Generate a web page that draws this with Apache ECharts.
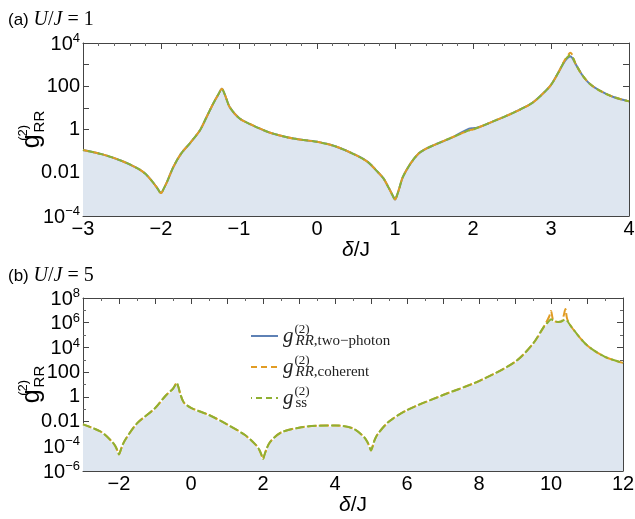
<!DOCTYPE html>
<html>
<head>
<meta charset="utf-8">
<script src="https://cdn.jsdelivr.net/npm/echarts@6/dist/echarts.min.js"></script>
<style>
  html, body { margin: 0; padding: 0; background: #fff; }
  #main { width: 635px; height: 519px; }
</style>
</head>
<body>
<div id="main"></div>
<script>
  // panel (a): U/J = 1, g2 values
  var deltaA = [-3, -2.75, -2.5, -2.3, -2.2, -2.1, -2.05, -2, -1.96, -1.92, -1.84, -1.74, -1.63, -1.5, -1.42, -1.33, -1.26, -1.22, -1.18, -1.12,
    -1.0, -0.86, -0.6, -0.3, 0, 0.25, 0.5, 0.65, 0.75, 0.85, 0.92, 0.97, 1.0, 1.03, 1.06, 1.1, 1.2, 1.3, 1.4, 1.5,
    1.75, 1.95, 2.0, 2.05, 2.25, 2.5, 2.75, 2.9, 3.0, 3.1, 3.18, 3.25, 3.32, 3.4, 3.5, 3.65, 3.8, 4.0]
  var twoPhotonA = [0.112, 0.071, 0.035, 0.016, 8.9e-3, 3.5e-3, 2.0e-3, 1.15e-3, 2.0e-3, 4.0e-3, 0.019, 0.079, 0.23, 0.93, 3.5, 16, 45, 76, 40, 11,
    3.4, 1.8, 0.71, 0.38, 0.27, 0.16, 0.065, 0.032, 0.014, 5.6e-3, 2.0e-3, 8.9e-4, 5.8e-4, 1.0e-3, 2.2e-3, 6.3e-3, 0.027, 0.076, 0.13, 0.19,
    0.46, 1.1, 1.15, 1.2, 2.3, 5.6, 16, 47, 115, 470, 1500, 2350, 1000, 330, 126, 56, 32, 20]
  var coherentA = [0.112, 0.071, 0.035, 0.016, 8.9e-3, 3.5e-3, 2.0e-3, 1.15e-3, 2.0e-3, 4.0e-3, 0.019, 0.079, 0.23, 0.93, 3.5, 16, 45, 76, 40, 11,
    3.4, 1.8, 0.71, 0.38, 0.27, 0.16, 0.065, 0.032, 0.014, 5.6e-3, 2.0e-3, 8.9e-4, 5.8e-4, 1.0e-3, 2.2e-3, 6.3e-3, 0.027, 0.076, 0.13, 0.19,
    0.46, 0.91, 1.0, 1.17, 2.3, 5.6, 16, 47, 115, 470, 1700, 3550, 1000, 330, 126, 56, 32, 20]
  var steadyA = [0.112, 0.071, 0.035, 0.016, 8.9e-3, 3.5e-3, 2.0e-3, 1.15e-3, 2.0e-3, 4.0e-3, 0.019, 0.079, 0.23, 0.93, 3.5, 16, 45, 76, 40, 11,
    3.4, 1.8, 0.71, 0.38, 0.27, 0.16, 0.065, 0.032, 0.014, 5.6e-3, 2.0e-3, 8.9e-4, 5.8e-4, 1.0e-3, 2.2e-3, 6.3e-3, 0.027, 0.076, 0.13, 0.19,
    0.46, 0.91, 1.0, 1.17, 2.3, 5.6, 16, 47, 115, 470, 1600, 2800, 1000, 330, 126, 56, 32, 20]

  // panel (b): U/J = 5
  var deltaB = [-3, -2.5, -2.2, -2.1, -2.03, -2, -1.97, -1.9, -1.8, -1.5, -1, -0.7, -0.5, -0.45, -0.4, -0.35, -0.3, -0.2, 0, 0.5, 1, 1.5, 1.8, 1.9, 1.97, 2,
    2.03, 2.1, 2.2, 2.5, 3, 3.5, 4, 4.5, 4.8, 4.9, 4.97, 5, 5.03, 5.1, 5.2, 5.5, 6, 7, 8, 9, 9.5, 9.8, 9.95, 10, 10.05, 10.1, 10.2, 10.3, 10.35, 10.4,
    10.45, 10.6, 11, 11.5, 12]
  var coherentB = [5.9e-3, 1.5e-3, 2.5e-4, 1e-4, 3.5e-5, 2.2e-5, 3.5e-5, 1.3e-4, 4.5e-4, 7.1e-3, 0.12, 1.3, 4.5, 7.9, 13.5, 6.3, 1.8, 0.35, 0.13, 0.034,
    5.9e-3, 8.1e-4, 1.3e-4, 5e-5, 1.6e-5, 9.3e-6, 1.6e-5, 6.3e-5, 2.3e-4, 1.3e-3, 3.2e-3, 4.6e-3, 4.9e-3, 2.8e-3, 5.9e-4, 2.2e-4, 7.1e-5, 4.5e-5,
    7.1e-5, 3.2e-4, 1.1e-3, 0.01, 0.085, 1.4, 19, 680, 2.0e4, 4.6e5, 3.2e6, 8.9e6, 2.0e6, 1.3e6, 1.15e6, 1.3e6, 3.5e6, 1.26e7, 2.0e6, 3.4e5, 1.5e4,
    1740, 560]
  var steadyB = [5.9e-3, 1.5e-3, 2.5e-4, 1e-4, 3.5e-5, 2.2e-5, 3.5e-5, 1.3e-4, 4.5e-4, 7.1e-3, 0.12, 1.3, 4.5, 7.9, 13.5, 6.3, 1.8, 0.35, 0.13, 0.034,
    5.9e-3, 8.1e-4, 1.3e-4, 5e-5, 1.6e-5, 9.3e-6, 1.6e-5, 6.3e-5, 2.3e-4, 1.3e-3, 3.2e-3, 4.6e-3, 4.9e-3, 2.8e-3, 5.9e-4, 2.2e-4, 7.1e-5, 4.5e-5,
    7.1e-5, 3.2e-4, 1.1e-3, 0.01, 0.085, 1.4, 19, 680, 2.0e4, 4.6e5, 1.4e6, 1.9e6, 1.6e6, 1.3e6, 1.15e6, 1.3e6, 1.6e6, 1.9e6, 1.4e6, 3.4e5, 1.5e4,
    1740, 560]

  // decade tick labels (exponent -> text)
  var decadeLabels = { '-6': '10^-6', '-4': '10^-4', '-2': '0.01', '0': '1', '2': '100', '4': '10^4', '6': '10^6', '8': '10^8' }

  var N_TP = 'two-photon'
  var N_CO = 'coherent'
  var N_SS = 'ss'
  var legendText = {}
  legendText[N_TP] = '{g|g}{s|(2)}{r|RR}{t|,two\u2212photon}'
  legendText[N_CO] = '{g|g}{s|(2)}{r|RR}{t|,coherent}'
  legendText[N_SS] = '{g|g}{s|(2)}{t|ss}'

  var BLUE = '#5e81b5'
  var ORANGE = '#e19c24'
  var GREEN = '#8fb032'
  var FILL = '#dee6f0'
  var FRAME = '#444'
  var SANS = 'Liberation Sans'
  var SERIF = 'Liberation Serif'

  function toPts(xs, ys) {
    return xs.map(function(x, i) { return [x, Math.log10(ys[i])] })
  }

  function minus(v) {
    return String(v).replace('-', '\u2212')
  }

  function yLabel(v) {
    var s = decadeLabels[String(v)]
    if (!s) return ''
    if (s.indexOf('^') < 0) return s
    var parts = s.split('^')
    return '{b|' + parts[0] + '}{e|' + minus(parts[1]) + '}'
  }

  var labelRich = {
    b: { fontFamily: SANS, fontSize: 20, color: '#000', lineHeight: 22, verticalAlign: 'bottom' },
    e: { fontFamily: SANS, fontSize: 13, color: '#000', lineHeight: 14, verticalAlign: 'top' }
  }
  var nameRichY = {
    g: { fontFamily: SANS, fontSize: 25, color: '#000', lineHeight: 30, verticalAlign: 'middle' },
    s: { fontFamily: SANS, fontSize: 13, color: '#000', lineHeight: 14, verticalAlign: 'top', width: 1, padding: [0, 0, 0, 1] },
    r: { fontFamily: SANS, fontSize: 15, color: '#000', lineHeight: 16, verticalAlign: 'bottom' }
  }
  var nameRichX = {
    d: { fontFamily: SANS, fontSize: 21, fontStyle: 'italic', color: '#000' },
    j: { fontFamily: SANS, fontSize: 21, color: '#000' }
  }
  var titleRich = {
    a: { fontFamily: SANS, fontSize: 17, fontWeight: 'normal', color: '#000' },
    u: { fontFamily: SERIF, fontSize: 20, fontStyle: 'italic', fontWeight: 'normal', color: '#000' },
    p: { fontFamily: SERIF, fontSize: 20, fontWeight: 'normal', color: '#000' }
  }

  function frameAxis(extra) {
    var base = {
      splitLine: { show: false },
      axisLine: { onZero: false, lineStyle: { color: FRAME, width: 1 } },
      axisTick: { inside: true, length: 6, lineStyle: { color: FRAME } },
      minorTick: { show: true, length: 3, lineStyle: { color: '#666' } },
      axisLabel: { show: false }
    }
    return Object.assign(base, extra)
  }

  function curve(name, xi, yi, pts, color, extra) {
    return Object.assign({
      name: name, type: 'line', xAxisIndex: xi, yAxisIndex: yi,
      symbol: 'none', smooth: 0.3,
      data: pts,
      itemStyle: { color: color },
      lineStyle: { color: color, width: 2 }
    }, extra)
  }

  var chart = echarts.init(document.getElementById('main'))
  chart.setOption({
    animation: false,
    backgroundColor: '#fff',
    title: [
      { left: 3, top: 5, text: '{a|(a) }{u|U}{p|/}{u|J}{p| = 1}', textStyle: { fontWeight: 'normal', rich: titleRich } },
      { left: 3, top: 261, text: '{a|(b) }{u|U}{p|/}{u|J}{p| = 5}', textStyle: { fontWeight: 'normal', rich: titleRich } }
    ],
    legend: {
      left: 245, top: 318, orient: 'vertical',
      itemWidth: 27, itemHeight: 14, itemGap: 5,
      itemStyle: { opacity: 0, borderWidth: 0 },
      data: [N_TP, N_CO, N_SS],
      formatter: function(name) { return legendText[name] },
      textStyle: { rich: {
        g: { fontFamily: SERIF, fontSize: 21, fontStyle: 'italic', color: '#222', lineHeight: 26, verticalAlign: 'middle' },
        s: { fontFamily: SERIF, fontSize: 13, color: '#222', lineHeight: 13, verticalAlign: 'top', width: 1, padding: [0, 0, 0, 1] },
        r: { fontFamily: SERIF, fontSize: 15, fontStyle: 'italic', color: '#222', lineHeight: 13, verticalAlign: 'bottom' },
        t: { fontFamily: SERIF, fontSize: 15, color: '#222', lineHeight: 13, verticalAlign: 'bottom' }
      } }
    },
    grid: [
      { left: 83, top: 43, width: 546, height: 173, containLabel: false, outerBoundsMode: 'none' },
      { left: 83, top: 298, width: 540, height: 173, containLabel: false, outerBoundsMode: 'none' }
    ],
    xAxis: [
      frameAxis({
        type: 'value', gridIndex: 0, position: 'bottom', min: -3, max: 4, interval: 1,
        minorTick: { show: true, splitNumber: 5, length: 3, lineStyle: { color: '#666' } },
        axisLabel: { show: true, margin: 3, fontFamily: SANS, fontSize: 20, color: '#000', formatter: minus },
        name: '{d|\u03b4}{j|/J}', nameLocation: 'middle', nameGap: 20,
        nameTextStyle: { rich: nameRichX }
      }),
      frameAxis({
        type: 'value', gridIndex: 0, position: 'top', min: -3, max: 4, interval: 1,
        minorTick: { show: true, splitNumber: 5, length: 3, lineStyle: { color: '#666' } }
      }),
      frameAxis({
        type: 'value', gridIndex: 1, position: 'bottom', min: -3, max: 12, interval: 1,
        minorTick: { show: true, splitNumber: 2, length: 3, lineStyle: { color: '#666' } },
        axisLabel: { show: true, margin: 3, fontFamily: SANS, fontSize: 20, color: '#000',
          formatter: function(v) { return v % 2 === 0 ? minus(v) : '' } },
        name: '{d|\u03b4}{j|/J}', nameLocation: 'middle', nameGap: 23,
        nameTextStyle: { rich: nameRichX }
      }),
      frameAxis({
        type: 'value', gridIndex: 1, position: 'top', min: -3, max: 12, interval: 1,
        minorTick: { show: true, splitNumber: 2, length: 3, lineStyle: { color: '#666' } }
      })
    ],
    yAxis: [
      frameAxis({
        type: 'value', gridIndex: 0, position: 'left', min: -4, max: 4, interval: 2,
        minorTick: { show: true, splitNumber: 2, length: 6, lineStyle: { color: FRAME } },
        axisLabel: { show: true, margin: 3, fontFamily: SANS, fontSize: 20, color: '#000', formatter: yLabel, rich: labelRich },
        name: '{g|g}{s|(2)}{r|RR}', nameLocation: 'middle', nameRotate: 90, nameGap: 36, nameMoveOverlap: false,
        nameTextStyle: { rich: nameRichY }
      }),
      frameAxis({
        type: 'value', gridIndex: 0, position: 'right', min: -4, max: 4, interval: 2,
        minorTick: { show: true, splitNumber: 2, length: 6, lineStyle: { color: FRAME } }
      }),
      frameAxis({
        type: 'value', gridIndex: 1, position: 'left', min: -6, max: 8, interval: 2,
        minorTick: { show: true, splitNumber: 2, length: 3, lineStyle: { color: '#666' } },
        axisLabel: { show: true, margin: 3, fontFamily: SANS, fontSize: 20, color: '#000', formatter: yLabel, rich: labelRich },
        name: '{g|g}{s|(2)}{r|RR}', nameLocation: 'middle', nameRotate: 90, nameGap: 36, nameMoveOverlap: false,
        nameTextStyle: { rich: nameRichY }
      }),
      frameAxis({
        type: 'value', gridIndex: 1, position: 'right', min: -6, max: 8, interval: 2,
        minorTick: { show: true, splitNumber: 2, length: 3, lineStyle: { color: '#666' } }
      })
    ],
    series: [
      curve(N_TP, 0, 0, toPts(deltaA, twoPhotonA), BLUE, {
        areaStyle: { color: FILL, opacity: 1, origin: 'start' }
      }),
      curve(N_CO, 0, 0, toPts(deltaA, coherentA), ORANGE, {
        lineStyle: { color: ORANGE, width: 2, type: [6, 4] }
      }),
      curve(N_SS, 0, 0, toPts(deltaA, steadyA), GREEN, {
        lineStyle: { color: GREEN, width: 2, type: [6, 4], dashOffset: 5 }
      }),
      // (b): filled region; its outline shows white between the dashes
      curve(N_TP, 2, 2, toPts(deltaB, steadyB), BLUE, {
        lineStyle: { color: '#fff', width: 2 },
        areaStyle: { color: FILL, opacity: 1, origin: 'start' }
      }),
      curve(N_CO, 2, 2, toPts(deltaB, coherentB), ORANGE, {
        lineStyle: { color: ORANGE, width: 2, type: [9, 3] }
      }),
      curve(N_SS, 2, 2, toPts(deltaB, steadyB), GREEN, {
        lineStyle: { color: GREEN, width: 2, type: [9, 3], dashOffset: 1 }
      })
    ]
  })
</script>
</body>
</html>
